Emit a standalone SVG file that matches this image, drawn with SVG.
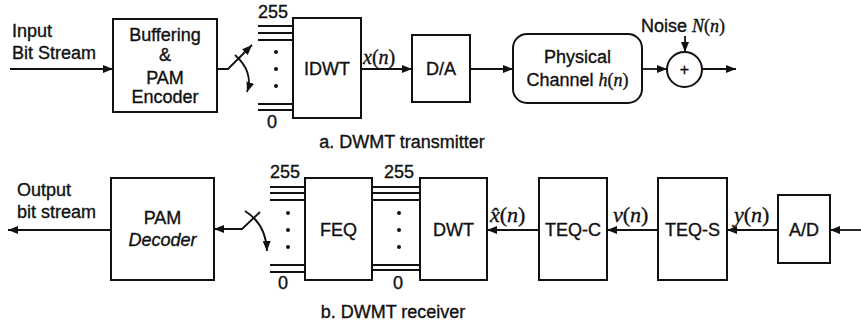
<svg xmlns="http://www.w3.org/2000/svg" width="861" height="327" viewBox="0 0 861 327">
<defs>
<marker id="ah" markerUnits="userSpaceOnUse" markerWidth="10" markerHeight="8" viewBox="0 0 10 8" refX="10" refY="4" orient="auto"><path d="M0,0 L10,4 L0,8 z" fill="#111"/></marker>
</defs>
<style>
.b{fill:#fff;stroke:#111;stroke-width:2}
.l{fill:none;stroke:#111;stroke-width:2}
.a{fill:none;stroke:#111;stroke-width:1.8;marker-end:url(#ah)}
.d{fill:#111}
text{font-family:"Liberation Sans",Arial,sans-serif;font-size:18px;fill:#111;stroke:#111;stroke-width:0.35}
.c{text-anchor:middle}
.s{font-family:"Liberation Serif","Times New Roman",serif}
.i{font-style:italic}
</style>
<rect width="861" height="327" fill="#fff"/>
<g id="connectors">
<line class="a" x1="10" y1="69" x2="113" y2="69"/>
<path class="a" d="M217,69 H228 L252,45"/>
<path class="a" d="M235,55 Q254,72 247,92"/>
<path class="l" d="M258,26 H293 M258,33 H293 M258,40 H293 M258,104 H293 M258,110 H293"/>
<circle class="d" cx="276" cy="52" r="2"/>
<circle class="d" cx="276" cy="69" r="2"/>
<circle class="d" cx="276" cy="86" r="2"/>
<line class="a" x1="361" y1="69" x2="412" y2="69"/>
<line class="a" x1="470" y1="69" x2="513" y2="69"/>
<line class="a" x1="642" y1="69" x2="667" y2="69"/>
<line class="a" x1="685" y1="36" x2="685" y2="52"/>
<line class="a" x1="702" y1="69" x2="736" y2="69"/>
<line class="a" x1="861" y1="230" x2="830" y2="230"/>
<line class="a" x1="778" y1="230" x2="727" y2="230"/>
<line class="a" x1="658" y1="230" x2="607" y2="230"/>
<line class="a" x1="539" y1="230" x2="487" y2="230"/>
<path class="l" d="M372,187 H420 M372,193 H420 M372,200 H420 M372,265 H420 M372,270 H420"/>
<path class="l" d="M270,187 H305 M270,193 H305 M270,200 H305 M270,265 H305 M270,272 H305"/>
<circle class="d" cx="288" cy="213" r="2"/>
<circle class="d" cx="288" cy="230" r="2"/>
<circle class="d" cx="288" cy="247" r="2"/>
<circle class="d" cx="399" cy="213" r="2"/>
<circle class="d" cx="399" cy="230" r="2"/>
<circle class="d" cx="399" cy="247" r="2"/>
<path class="a" d="M260,212 L242,229 H214"/>
<path class="a" d="M245,211 Q266,224 267,251"/>
<line class="a" x1="111" y1="230" x2="8" y2="230"/>
</g>
<g id="input-label">
<text x="12" y="37">Input</text>
<text x="12" y="59">Bit Stream</text>
</g>
<g id="buffering">
<rect class="b" x="113" y="19" width="104" height="93"/>
<text class="c" x="165" y="41">Buffering</text>
<text class="c" x="165" y="61">&amp;</text>
<text class="c" x="165" y="84">PAM</text>
<text class="c" x="165" y="103">Encoder</text>
</g>
<g id="tx-bundle-labels">
<text x="258" y="18">255</text>
<text class="c" x="272" y="128">0</text>
</g>
<g id="idwt">
<rect class="b" x="293" y="18" width="68" height="100"/>
<text class="c" x="327" y="75">IDWT</text>
</g>
<g id="xn-label">
<text class="s" x="363" y="64" style="font-size:20px"><tspan class="i">x</tspan>(<tspan class="i">n</tspan>)</text>
</g>
<g id="da">
<rect class="b" x="412" y="35" width="58" height="67"/>
<text class="c" x="441" y="75">D/A</text>
</g>
<g id="channel">
<rect class="b" x="513" y="34" width="129" height="69" rx="14"/>
<text class="c" x="577.5" y="63">Physical</text>
<text class="c" x="577.5" y="86">Channel <tspan class="s i">h</tspan><tspan class="s">(</tspan><tspan class="s i">n</tspan><tspan class="s">)</tspan></text>
</g>
<g id="sum">
<circle class="b" cx="684.5" cy="69.5" r="17.5"/>
<text class="c" x="684.5" y="75" style="font-size:16px">+</text>
</g>
<g id="noise-label">
<text x="641" y="32">Noise <tspan class="s i">N</tspan><tspan class="s">(</tspan><tspan class="s i">n</tspan><tspan class="s">)</tspan></text>
</g>
<g id="caption-a">
<text class="c" x="402" y="148">a. DWMT transmitter</text>
</g>
<g id="output-label">
<text x="17" y="196">Output</text>
<text x="17" y="218">bit stream</text>
</g>
<g id="pam-decoder">
<rect class="b" x="111" y="178" width="103" height="102"/>
<text class="c" x="162.5" y="224">PAM</text>
<text class="c i" x="162.5" y="246">Decoder</text>
</g>
<g id="rx-bundle-labels">
<text x="270" y="178">255</text>
<text class="c" x="283" y="289">0</text>
<text x="384" y="178">255</text>
<text class="c" x="398" y="289">0</text>
</g>
<g id="feq">
<rect class="b" x="305" y="178" width="67" height="102"/>
<text class="c" x="338.5" y="236">FEQ</text>
</g>
<g id="dwt">
<rect class="b" x="420" y="178" width="67" height="102"/>
<text class="c" x="453.5" y="236">DWT</text>
</g>
<g id="xhat-label">
<text class="s" x="490" y="222" style="font-size:22px"><tspan class="i">x̂</tspan>(<tspan class="i">n</tspan>)</text>
</g>
<g id="teq-c">
<rect class="b" x="539" y="178" width="68" height="102"/>
<text class="c" x="573" y="236">TEQ-C</text>
</g>
<g id="vn-label">
<text class="s" x="613" y="222" style="font-size:22px"><tspan class="i">v</tspan>(<tspan class="i">n</tspan>)</text>
</g>
<g id="teq-s">
<rect class="b" x="658" y="178" width="69" height="102"/>
<text class="c" x="692.5" y="236">TEQ-S</text>
</g>
<g id="yn-label">
<text class="s" x="734" y="222" style="font-size:22px"><tspan class="i">y</tspan>(<tspan class="i">n</tspan>)</text>
</g>
<g id="ad">
<rect class="b" x="778" y="195" width="52" height="68"/>
<text class="c" x="804" y="236">A/D</text>
</g>
<g id="caption-b">
<text class="c" x="393" y="318">b. DWMT receiver</text>
</g>
</svg>
